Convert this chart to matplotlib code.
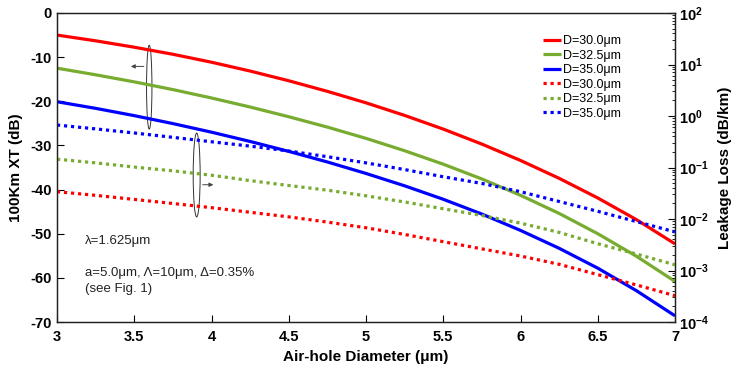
import matplotlib
matplotlib.use("Agg")
import matplotlib.pyplot as plt
import numpy as np
from matplotlib.patches import Ellipse
from matplotlib.ticker import LogLocator, FixedLocator, NullFormatter

plt.rcParams['font.family'] = ['Liberation Sans', 'DejaVu Sans']
plt.rcParams['axes.unicode_minus'] = False
plt.rcParams['mathtext.fontset'] = 'custom'
plt.rcParams['mathtext.rm'] = 'Liberation Sans'
plt.rcParams['mathtext.it'] = 'Liberation Sans:italic'
plt.rcParams['mathtext.bf'] = 'Liberation Sans:bold'

# ---- data ----
diameter = [3.0, 3.25, 3.5, 3.75, 4.0, 4.25, 4.5, 4.75, 5.0,
            5.25, 5.5, 5.75, 6.0, 6.25, 6.5, 6.75, 7.0]
xt_d300 = [-5.0, -6.3, -7.75, -9.35, -11.15, -13.15, -15.35, -17.75, -20.35,
           -23.2, -26.3, -29.7, -33.4, -37.45, -41.9, -46.8, -52.3]
xt_d325 = [-12.5, -14.0, -15.6, -17.35, -19.25, -21.3, -23.5, -25.85, -28.4,
           -31.2, -34.25, -37.6, -41.3, -45.4, -50.0, -55.1, -60.8]
xt_d350 = [-20.1, -21.6, -23.25, -25.05, -27.0, -29.1, -31.35, -33.75, -36.35,
           -39.15, -42.2, -45.55, -49.25, -53.3, -57.8, -62.9, -68.6]
loss_d300 = [0.0339, 0.0288, 0.0240, 0.0200, 0.0166, 0.0135, 0.0110, 0.00871, 0.00676,
             0.00501, 0.00363, 0.00263, 0.00191, 0.00132, 0.000832, 0.000525, 0.000324]
loss_d325 = [0.145, 0.123, 0.102, 0.0861, 0.0708, 0.0556, 0.0447, 0.0363, 0.0282,
             0.0214, 0.0158, 0.0117, 0.00832, 0.00550, 0.00331, 0.00209, 0.00129]
loss_d350 = [0.668, 0.562, 0.468, 0.385, 0.316, 0.260, 0.209, 0.162, 0.123,
             0.0912, 0.0661, 0.0490, 0.0339, 0.0219, 0.0141, 0.00891, 0.00562]
series_labels = ['D=30.0\u03bcm', 'D=32.5\u03bcm', 'D=35.0\u03bcm']
colors = ['#FF0000', '#77AC30', '#0000FF']
x_ticks = [3, 3.5, 4, 4.5, 5, 5.5, 6, 6.5, 7]
x_tick_labels = ['3', '3.5', '4', '4.5', '5', '5.5', '6', '6.5', '7']
y_ticks = [0, -10, -20, -30, -40, -50, -60, -70]
y2_ticks = [1e-4, 1e-3, 1e-2, 1e-1, 1e0, 1e1, 1e2]
y2_tick_labels = [r'$\mathbf{10^{-4}}$', r'$\mathbf{10^{-3}}$', r'$\mathbf{10^{-2}}$',
                  r'$\mathbf{10^{-1}}$', r'$\mathbf{10^{0}}$', r'$\mathbf{10^{1}}$',
                  r'$\mathbf{10^{2}}$']

fig = plt.figure(figsize=(7.38, 3.68), dpi=100)
ax = fig.add_axes([57/738, 1-322/368, 618/738, 309/368])
ax2 = ax.twinx()

lw = 2.3
handles = []
for ys, c, lab in zip([xt_d300, xt_d325, xt_d350], colors, series_labels):
    h, = ax.plot(diameter, ys, color=c, lw=lw, solid_capstyle='butt', label=lab)
    handles.append(h)
for ys, c, lab in zip([loss_d300, loss_d325, loss_d350], colors, series_labels):
    h, = ax2.plot(diameter, ys, color=c, lw=lw, linestyle=(0, (1.0, 1.2)),
                  dash_capstyle='butt', label=lab)
    handles.append(h)

ax.set_xlim(3, 7)
ax.set_ylim(-70, 0)
ax2.set_yscale('log')
ax2.set_ylim(1e-4, 1e2)

ax.set_xticks(x_ticks)
ax.set_xticklabels(x_tick_labels)
ax.set_yticks(y_ticks)
ax.tick_params(axis='both', direction='in', length=5, width=0.8, labelsize=10.5, pad=4)
ax.tick_params(axis='x', pad=6)
for t in ax.get_xticklabels() + ax.get_yticklabels():
    t.set_fontweight('bold')

ax2.yaxis.set_major_locator(FixedLocator(y2_ticks))
ax2.set_yticklabels(y2_tick_labels)
ax2.yaxis.set_minor_locator(LogLocator(base=10, subs=np.arange(2, 10), numticks=20))
ax2.yaxis.set_minor_formatter(NullFormatter())
ax2.tick_params(axis='y', which='major', direction='in', length=5, width=0.8, labelsize=10.5, pad=3)
ax2.tick_params(axis='y', which='minor', direction='in', length=2.5, width=0.6)

for a in (ax, ax2):
    for s in a.spines.values():
        s.set_linewidth(0.9)
        s.set_color('#222222')

ax.set_xlabel('Air-hole Diameter (\u03bcm)', fontsize=11, fontweight='bold', labelpad=4)
ax.set_ylabel('100Km XT (dB)', fontsize=11, fontweight='bold', labelpad=5)
ax2.set_ylabel('Leakage Loss (dB/km)', fontsize=11, fontweight='bold', labelpad=6)

leg = ax2.legend(handles=handles, loc='upper left', bbox_to_anchor=(0.787, 0.928),
                 frameon=False, fontsize=9, handlelength=1.45, handletextpad=0.1,
                 labelspacing=0.2, borderpad=0, borderaxespad=0)

# annotations (ellipses + arrows indicating axes)
ell1 = Ellipse((3.597, -16.8), 0.035, 19.0, fill=False, ec='#333333', lw=0.7)
ell2 = Ellipse((3.904, -36.7), 0.045, 19.0, fill=False, ec='#333333', lw=0.7)
ax.add_patch(ell1)
ax.add_patch(ell2)
ax.annotate('', xy=(3.46, -12.1), xytext=(3.58, -12.1),
            arrowprops=dict(arrowstyle='-|>', color='#444444', lw=0.7, mutation_scale=6))
ax.annotate('', xy=(4.03, -38.9), xytext=(3.925, -38.9),
            arrowprops=dict(arrowstyle='-|>', color='#444444', lw=0.7, mutation_scale=6))

ax.text(3.18, -51.6, '\u03bb=1.625\u03bcm', fontsize=9.5, color='#222222', va='center')
ax.text(3.18, -58.8, 'a=5.0\u03bcm, \u039b=10\u03bcm, \u0394=0.35%', fontsize=9.5,
        color='#222222', va='center')
ax.text(3.18, -62.6, '(see Fig. 1)', fontsize=9.5, color='#222222', va='center')

fig.savefig('out.png', dpi=100)
